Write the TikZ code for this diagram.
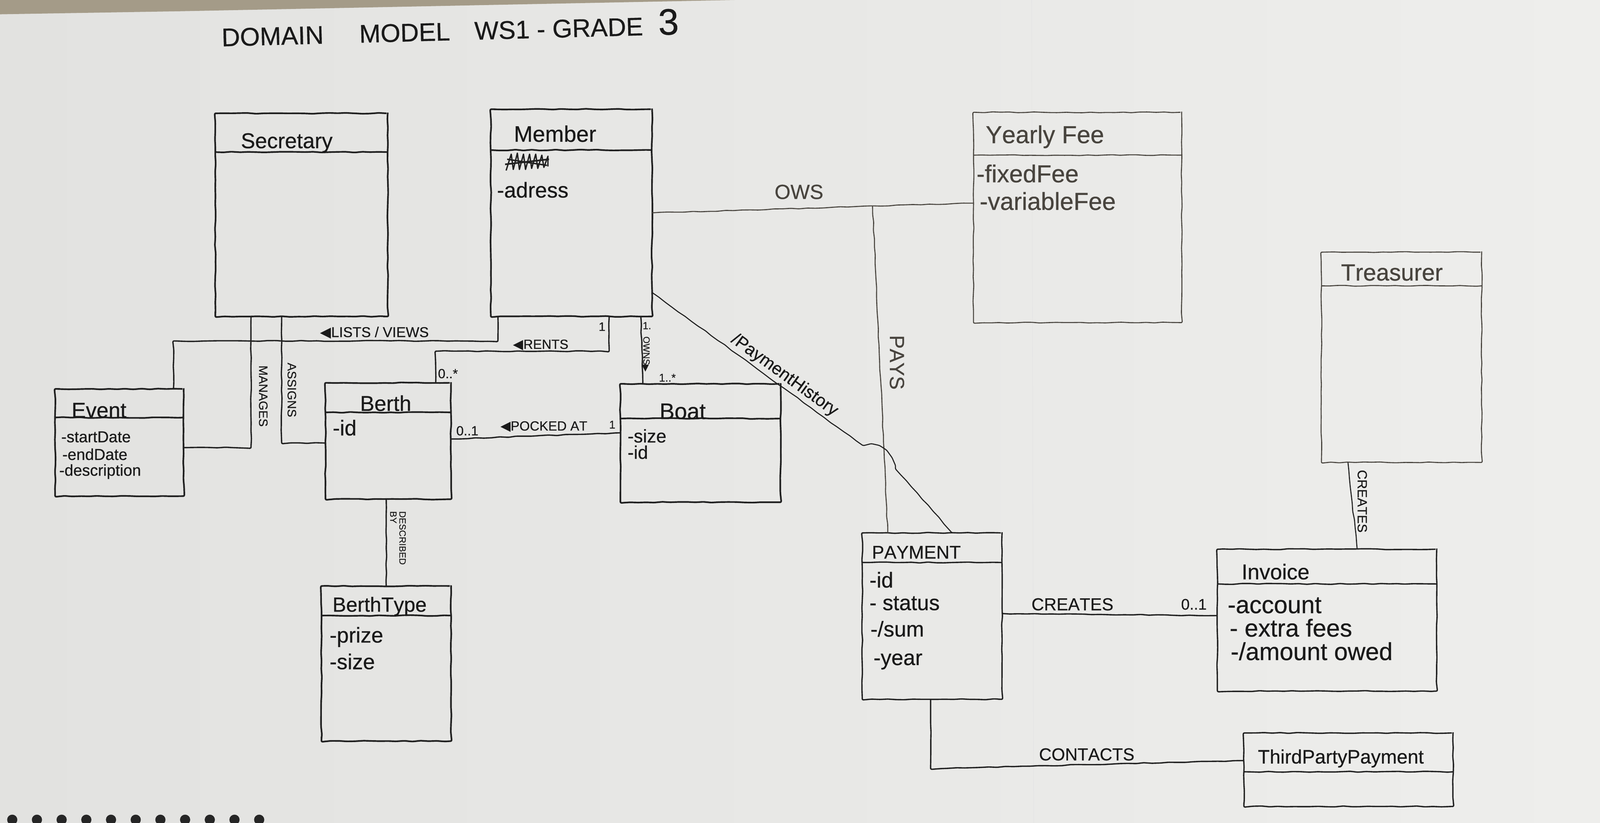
\documentclass[tikz,border=0pt]{standalone}
\usepackage{fontspec}
\setmainfont{Liberation Sans}[FakeBold=0.6,Kerning=Off]
\newfontfamily\symf{DejaVu Sans}
\usetikzlibrary{decorations.pathmorphing}
\definecolor{paperL}{HTML}{E2E2E0}
\definecolor{paperR}{HTML}{EEEEEC}
\definecolor{tablec}{HTML}{A49B88}
\definecolor{inkc}{HTML}{1F1F1F}
\definecolor{pencilc}{HTML}{48443E}
\definecolor{txtc}{HTML}{1A1A1A}
\newcommand{\fs}[1]{\fontsize{#1mm}{#1mm}\selectfont}
\newcommand{\umlbox}[7][]{%
  \node[classbox,#1,minimum width={(#5-#3)*1mm},minimum height={(#6-#4)*1mm}] (#2) at ({(#3+#5)/2},{(#4+#6)/2}) {};
  \draw[ink,#1] ([yshift={-(#7-#4)*1mm}]#2.north west) -- ([yshift={-(#7-#4)*1mm}]#2.north east);
}
\begin{document}
\begin{tikzpicture}[x=1mm,y=-1mm,
  ink/.style={draw=inkc, line width=1.6mm, decorate, decoration={random steps, segment length=8mm, amplitude=0.45mm}, rounded corners=1.2mm},
  pencil/.style={draw=pencilc, line width=1.0mm},
  thinbox/.style={line width=1.3mm},
  classbox/.style={ink, rectangle, inner sep=0pt, outer sep=0pt},
  wire/.style={ink, line width=1.3mm},
  title/.style={inner sep=0pt, text=txtc, font=\fs{21}},
  attr/.style={inner sep=0pt, anchor=west, text=txtc, font=\fs{21}},
  lbl/.style={inner sep=0pt, text=txtc, font=\fs{14}},
  ptxt/.style={text=pencilc},
]
\useasboundingbox (0,0) rectangle (1568,806);
\shade[left color=paperL, right color=paperR] (0,0) rectangle (1568,806);
\fill[tablec] (0,0) -- (720,0) -- (177,11) -- (0,14) -- cycle;
\draw[draw=black!10, line width=0.6mm] (1011,0) -- (1013,806);
\foreach \i in {0,...,10} \fill[black!85] ({12+24.2*\i},803) ellipse [x radius=5, y radius=5];

% title
\node[inner sep=0pt, anchor=west, rotate=1.5, text=txtc, font=\fs{25}] (title) at (217,33)
  {DOMAIN\hspace{35mm}MODEL\hspace{24mm}WS1 - GRADE\hspace{15mm}{\fs{36}3}};

% classes
\umlbox{secretary}{211}{111}{380}{310}{149}
\umlbox{member}{481}{107}{639}{310}{147}
\umlbox{event}{54}{381}{180}{486}{409}
\umlbox{berth}{319}{375}{442}{489}{404}
\umlbox{boat}{608}{376}{765}{492}{410}
\umlbox{berthtype}{315}{574}{442}{726}{603}
\umlbox[pencil]{yearly}{954}{110}{1158}{316}{152}
\umlbox[pencil]{treasurer}{1295}{247}{1452}{453}{280}
\umlbox[thinbox]{payment}{845}{522}{982}{685}{551}
\umlbox[thinbox]{invoice}{1193}{538}{1408}{677}{572}
\umlbox[thinbox]{tpp}{1219}{718}{1424}{790}{756}

% class titles
\node[title] (secretaryT) at (281,140) {Secretary};
\node[title, font=\fs{22}] (memberT) at (544,131) {Member};
\node[title] (eventT) at (97,402) {Event};
\node[title] (berthT) at (378,395) {Berth};
\node[title, font=\fs{22}] (boatT) at (669,403) {Boat};
\node[title, font=\fs{20}] (berthtypeT) at (372,594) {BerthType};
\node[title, ptxt, font=\fs{24}] (yearlyT) at (1024,134) {Yearly Fee};
\node[title, ptxt, font=\fs{23}] (treasurerT) at (1364,267) {Treasurer};
\node[title, font=\fs{18}] (paymentT) at (898,541) {PAYMENT};
\node[title] (invoiceT) at (1250,560) {Invoice};
\node[title, font=\fs{19}] (tppT) at (1314,743) {ThirdPartyPayment};

% member scribble (crossed-out attribute)
\draw[inkc, line width=1.3mm, line join=round]
  (496,167) -- (501,151) -- (503,166) -- (507,150) -- (509,166) -- (513,151) -- (515,166)
  -- (519,151) -- (521,165) -- (525,151) -- (527,165) -- (531,152) -- (533,164) -- (537,153) -- (537,163);
\draw[inkc, line width=1.6mm] (495,161) -- (538,156);
\draw[inkc, line width=1.4mm] (497,156) -- (536,162);

% attributes
\node[attr] (memberA) at (487,186) {-adress};
\node[attr, font=\fs{15.5}] (eventA1) at (60,428) {-startDate};
\node[attr, font=\fs{15.5}] (eventA2) at (61,445) {-endDate};
\node[attr, font=\fs{15.5}] (eventA3) at (58,462) {-description};
\node[attr] (berthA) at (326,419) {-id};
\node[attr, font=\fs{18}] (boatA1) at (615,427) {-size};
\node[attr, font=\fs{18}] (boatA2) at (615,443) {-id};
\node[attr] (berthtypeA1) at (323,624) {-prize};
\node[attr] (berthtypeA2) at (323,648) {-size};
\node[attr, ptxt, font=\fs{24}] (yearlyA1) at (957,170) {-fixedFee};
\node[attr, ptxt, font=\fs{24}] (yearlyA2) at (960,197) {-variableFee};
\node[attr] (paymentA1) at (852,568) {-id};
\node[attr] (paymentA2) at (852,591) {- status};
\node[attr] (paymentA3) at (853,616) {-/sum};
\node[attr] (paymentA4) at (856,648) {-year};
\node[attr, font=\fs{24}] (invoiceA1) at (1203,593) {-account};
\node[attr, font=\fs{24}] (invoiceA2) at (1205,615) {- extra fees};
\node[attr, font=\fs{24}] (invoiceA3) at (1206,638) {-/amount owed};

% OWS and PAYS
\draw[wire, pencil] (member.east) -- coordinate[pos=0.686] (paysj) ([yshift=14mm]yearly.west);
\node[lbl, ptxt, font=\fs{20}] (owsL) at (783,188) {OWS};
\draw[wire, pencil] (paysj) -- ([xshift=25mm]payment.north west);
\node[lbl, ptxt, font=\fs{20}, rotate=-90] (paysL) at (879,355) {PAYS};

% payment history
\draw[wire, line width=1.0mm] ([yshift=-78mm]member.east)
  -- node[sloped, above=2mm, pos=0.6, lbl, font=\fs{17}] (histL) {/PaymentHistory} (845,436)
  .. controls (862,433) and (873,444) .. (877,458) -- ([xshift=88mm]payment.north west);

% LISTS / VIEWS
\draw[wire] ([xshift=7mm]member.south west) -- ++(0,24) -| ([xshift=-10mm]event.north east);
\node[lbl] (listsL) at (367,326) {{\symf ◀}LISTS / VIEWS};

% MANAGES
\draw[wire] ([xshift=35mm]secretary.south west) |- ([yshift=-5mm]event.east);
\node[lbl, rotate=-90, font=\fs{12}] (managesL) at (258,388) {MANAGES};

% ASSIGNS
\draw[wire] ([xshift=65mm]secretary.south west) |- ([yshift=-2mm]berth.west);
\node[lbl, rotate=-90, font=\fs{12}] (assignsL) at (286,382) {ASSIGNS};

% RENTS
\draw[wire] ([xshift=116mm]member.south west) -- ++(0,34) -| ([xshift=-15mm]berth.north east);
\node[lbl, font=\fs{13}] (rentsL) at (530,338) {{\symf ◀}RENTS};
\node[lbl, font=\fs{12}] (rents1) at (590,320) {1};
\node[lbl, font=\fs{13}] (rentsM) at (439,366) {0..*};

% OWNS
\draw[wire] ([xshift=147mm]member.south west) -- ([xshift=22mm]boat.north west);
\node[lbl, font=\fs{10}] (owns1) at (634,319) {1.};
\node[lbl, rotate=-90, font=\fs{9}] (ownsL) at (633,347) {OWNS{\symf ▶}};
\node[lbl, font=\fs{11}] (ownsM) at (654,370) {1..*};

% DOCKED AT
\draw[wire] ([yshift=2mm]berth.east) -- ([yshift=10mm]boat.west);
\node[lbl, font=\fs{13}] (dock01) at (458,422) {0..1};
\node[lbl, font=\fs{13}] (dockL) at (533,418) {{\symf ◀}POCKED AT};
\node[lbl, font=\fs{11}] (dock1) at (600,416) {1};

% DESCRIBED BY
\draw[wire] ([xshift=-2mm]berth.south) -- (berthtype.north);
\node[lbl, rotate=-90, font=\fs{9}, align=left] (descL) at (390,527) {DESCRIBED\\BY};

% CREATES (payment - invoice)
\draw[wire] ([yshift=2.5mm]payment.east) -- ([yshift=4.5mm]invoice.west);
\node[lbl, font=\fs{17}] (cr1L) at (1051,592) {CREATES};
\node[lbl, font=\fs{15}] (cr1M) at (1170,592) {0..1};

% CREATES (treasurer - invoice)
\draw[wire, line width=1.0mm] ([xshift=26mm]treasurer.south west) -- ([xshift=137mm]invoice.north west);
\node[lbl, rotate=-90, font=\fs{13}] (cr2L) at (1335,491) {CREATES};

% CONTACTS
\draw[wire] ([xshift=67mm]payment.south west) -- ++(0,68) -- ([yshift=9mm]tpp.west);
\node[lbl, font=\fs{17}] (conL) at (1065,739) {CONTACTS};
\end{tikzpicture}
\end{document}
